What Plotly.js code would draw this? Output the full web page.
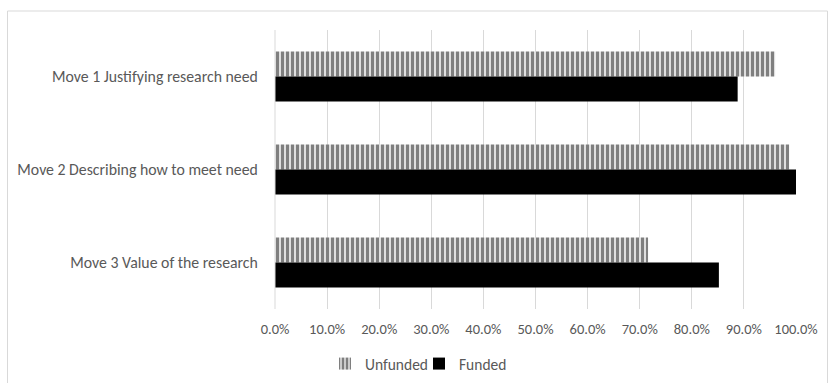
<!DOCTYPE html>
<html>
<head>
<meta charset="utf-8">
<script src="https://cdn.plot.ly/plotly-3.0.1.min.js"></script>
<style>html,body{margin:0;padding:0;background:#fff;overflow:hidden;}#chart{width:828px;height:383px;}</style>
</head>
<body>
<div id="chart"></div>
<script>
var categories = ["Move 1 Justifying research need", "Move 2 Describing how to meet need", "Move 3 Value of the research"];
var unfunded = [0.96, 0.987, 0.716];
var funded = [0.888, 1.0, 0.852];
var tickVals = [0, 0.1, 0.2, 0.3, 0.4, 0.5, 0.6, 0.7, 0.8, 0.9, 1.0];
var tickText = ["0.0%", "10.0%", "20.0%", "30.0%", "40.0%", "50.0%", "60.0%", "70.0%", "80.0%", "90.0%", "100.0%"];

var fontFam = "Carlito, Calibri, 'Liberation Sans', sans-serif";

var traces = [
  {
    type: "bar", orientation: "h", name: "Unfunded", legend: "legend",
    y: categories, x: unfunded,
    marker: {color: "#ffffff", line: {width: 0},
      pattern: {shape: "|", fgcolor: "#000000", bgcolor: "#ffffff", size: 5, solidity: 0.7, fillmode: "overlay"}},
    hoverinfo: "none"
  },
  {
    type: "bar", orientation: "h", name: "Funded", legend: "legend2",
    y: categories, x: funded,
    marker: {color: "#000000", line: {width: 0}},
    hoverinfo: "none"
  }
];

var legendCommon = {
  orientation: "h", xanchor: "left",
  yref: "container", y: 1 - 364 / 383, yanchor: "middle",
  font: {family: fontFam, size: 15.5, color: "#595959"},
  itemwidth: 30, bgcolor: "rgba(0,0,0,0)"
};

var layout = {
  width: 828, height: 383,
  margin: {l: 275, r: 32, t: 30, b: 74, autoexpand: false},
  paper_bgcolor: "#ffffff", plot_bgcolor: "#ffffff",
  barmode: "group", bargap: 0.46, bargroupgap: 0,
  font: {family: fontFam, color: "#595959", size: 14},
  xaxis: {
    range: [0, 1.0], tickvals: tickVals, ticktext: tickText,
    showgrid: true, gridcolor: "#d9d9d9", gridwidth: 1,
    zeroline: false, showline: false, automargin: false,
    ticks: "outside", ticklen: 7, tickcolor: "rgba(0,0,0,0)",
    tickfont: {family: fontFam, size: 14.5, color: "#595959"}
  },
  yaxis: {
    autorange: "reversed", showgrid: false, zeroline: false, showline: false,
    ticks: "outside", ticklen: 13, tickcolor: "rgba(0,0,0,0)", automargin: false,
    tickfont: {family: fontFam, size: 15.8, color: "#595959"}
  },
  showlegend: true,
  legend: Object.assign({}, legendCommon, {x: (325 - 275) / 521}),
  legend2: Object.assign({}, legendCommon, {x: (419 - 275) / 521}),
  shapes: [
    {type: "line", xref: "paper", yref: "paper", x0: 0, x1: 0, y0: 0, y1: 1,
     line: {color: "#d9d9d9", width: 1}},
    {type: "rect", xref: "paper", yref: "paper",
     x0: (7.5 - 275) / 521, x1: (827.5 - 275) / 521,
     y0: (309 - 400) / 279, y1: (309 - 11) / 279,
     line: {color: "#d9d9d9", width: 1}, fillcolor: "rgba(0,0,0,0)", layer: "below"}
  ]
};

Plotly.newPlot("chart", traces, layout, {staticPlot: true, displayModeBar: false});
</script>
</body>
</html>
